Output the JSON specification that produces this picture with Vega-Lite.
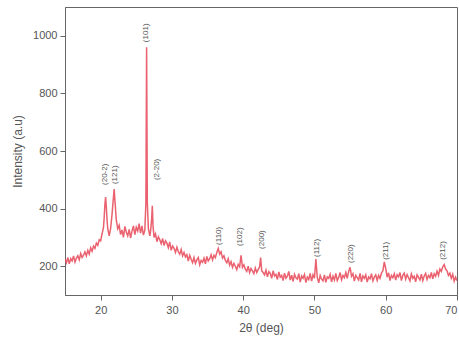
{
  "$schema": "https://vega.github.io/schema/vega-lite/v6.json",
  "width": 392,
  "height": 288,
  "autosize": {"type": "none"},
  "padding": {"left": 65, "top": 7, "right": 2, "bottom": 46},
  "background": "white",
  "config": {
    "view": {"stroke": "#666", "strokeWidth": 1},
    "font": "Liberation Sans",
    "axis": {"grid": false, "domainColor": "#666", "tickColor": "#666", "labelColor": "#555", "titleColor": "#555", "labelFontSize": 11, "titleFontSize": 12, "titleFontWeight": "normal", "tickSize": 5}
  },
  "datasets": {
    "xrd": [
      {"deg":15.0,"cnt":225},{"deg":15.2,"cnt":212},{"deg":15.4,"cnt":230},{"deg":15.6,"cnt":208},{"deg":15.8,"cnt":226},
      {"deg":16.0,"cnt":218},{"deg":16.2,"cnt":236},{"deg":16.4,"cnt":214},{"deg":16.6,"cnt":228},{"deg":16.8,"cnt":236},
      {"deg":17.0,"cnt":222},{"deg":17.2,"cnt":244},{"deg":17.4,"cnt":230},{"deg":17.6,"cnt":238},{"deg":17.8,"cnt":250},
      {"deg":18.0,"cnt":236},{"deg":18.2,"cnt":255},{"deg":18.4,"cnt":242},{"deg":18.6,"cnt":264},{"deg":18.8,"cnt":252},
      {"deg":19.0,"cnt":270},{"deg":19.2,"cnt":262},{"deg":19.4,"cnt":280},{"deg":19.6,"cnt":272},{"deg":19.8,"cnt":292},
      {"deg":20.0,"cnt":288},{"deg":20.2,"cnt":312},{"deg":20.4,"cnt":335},{"deg":20.5,"cnt":370},{"deg":20.6,"cnt":415},
      {"deg":20.7,"cnt":440},{"deg":20.8,"cnt":405},{"deg":20.9,"cnt":360},{"deg":21.0,"cnt":330},{"deg":21.2,"cnt":305},
      {"deg":21.4,"cnt":330},{"deg":21.6,"cnt":380},{"deg":21.8,"cnt":440},{"deg":21.9,"cnt":468},{"deg":22.0,"cnt":430},
      {"deg":22.2,"cnt":360},{"deg":22.4,"cnt":330},{"deg":22.6,"cnt":342},{"deg":22.8,"cnt":310},{"deg":23.0,"cnt":326},
      {"deg":23.2,"cnt":300},{"deg":23.4,"cnt":338},{"deg":23.6,"cnt":318},{"deg":23.8,"cnt":305},{"deg":24.0,"cnt":328},
      {"deg":24.2,"cnt":298},{"deg":24.4,"cnt":322},{"deg":24.6,"cnt":340},{"deg":24.8,"cnt":310},{"deg":25.0,"cnt":335},
      {"deg":25.2,"cnt":322},{"deg":25.4,"cnt":348},{"deg":25.6,"cnt":315},{"deg":25.8,"cnt":340},{"deg":26.0,"cnt":308},
      {"deg":26.2,"cnt":325},{"deg":26.35,"cnt":420},{"deg":26.45,"cnt":960},{"deg":26.55,"cnt":420},{"deg":26.7,"cnt":330},
      {"deg":26.9,"cnt":305},{"deg":27.0,"cnt":320},{"deg":27.15,"cnt":360},{"deg":27.25,"cnt":410},{"deg":27.35,"cnt":340},
      {"deg":27.5,"cnt":300},{"deg":27.7,"cnt":312},{"deg":27.9,"cnt":285},{"deg":28.1,"cnt":302},{"deg":28.3,"cnt":292},
      {"deg":28.5,"cnt":278},{"deg":28.7,"cnt":296},{"deg":28.9,"cnt":272},{"deg":29.1,"cnt":288},{"deg":29.3,"cnt":280},
      {"deg":29.5,"cnt":264},{"deg":29.7,"cnt":284},{"deg":29.9,"cnt":255},{"deg":30.1,"cnt":270},{"deg":30.3,"cnt":262},
      {"deg":30.5,"cnt":248},{"deg":30.7,"cnt":266},{"deg":30.9,"cnt":250},{"deg":31.1,"cnt":242},{"deg":31.3,"cnt":258},
      {"deg":31.5,"cnt":236},{"deg":31.7,"cnt":248},{"deg":31.9,"cnt":232},{"deg":32.1,"cnt":240},{"deg":32.3,"cnt":218},
      {"deg":32.5,"cnt":238},{"deg":32.7,"cnt":224},{"deg":32.9,"cnt":212},{"deg":33.1,"cnt":230},{"deg":33.3,"cnt":210},
      {"deg":33.5,"cnt":222},{"deg":33.7,"cnt":230},{"deg":33.9,"cnt":205},{"deg":34.1,"cnt":220},{"deg":34.3,"cnt":214},
      {"deg":34.5,"cnt":228},{"deg":34.7,"cnt":208},{"deg":34.9,"cnt":234},{"deg":35.1,"cnt":218},{"deg":35.3,"cnt":226},
      {"deg":35.5,"cnt":240},{"deg":35.7,"cnt":222},{"deg":35.9,"cnt":238},{"deg":36.1,"cnt":230},{"deg":36.3,"cnt":248},
      {"deg":36.5,"cnt":262},{"deg":36.7,"cnt":242},{"deg":36.9,"cnt":250},{"deg":37.1,"cnt":228},{"deg":37.3,"cnt":236},
      {"deg":37.5,"cnt":220},{"deg":37.7,"cnt":212},{"deg":37.9,"cnt":226},{"deg":38.1,"cnt":204},{"deg":38.3,"cnt":216},
      {"deg":38.5,"cnt":196},{"deg":38.7,"cnt":210},{"deg":38.9,"cnt":200},{"deg":39.1,"cnt":188},{"deg":39.3,"cnt":206},
      {"deg":39.5,"cnt":198},{"deg":39.7,"cnt":238},{"deg":39.9,"cnt":196},{"deg":40.1,"cnt":205},{"deg":40.3,"cnt":190},
      {"deg":40.5,"cnt":182},{"deg":40.7,"cnt":200},{"deg":40.9,"cnt":178},{"deg":41.1,"cnt":192},{"deg":41.3,"cnt":184},
      {"deg":41.5,"cnt":174},{"deg":41.7,"cnt":194},{"deg":41.9,"cnt":178},{"deg":42.1,"cnt":188},{"deg":42.3,"cnt":198},
      {"deg":42.45,"cnt":230},{"deg":42.6,"cnt":184},{"deg":42.8,"cnt":178},{"deg":43.0,"cnt":170},{"deg":43.2,"cnt":186},
      {"deg":43.4,"cnt":163},{"deg":43.6,"cnt":181},{"deg":43.8,"cnt":175},{"deg":44.0,"cnt":158},{"deg":44.2,"cnt":184},
      {"deg":44.4,"cnt":166},{"deg":44.6,"cnt":171},{"deg":44.8,"cnt":154},{"deg":45.0,"cnt":180},{"deg":45.2,"cnt":162},
      {"deg":45.4,"cnt":168},{"deg":45.6,"cnt":150},{"deg":45.8,"cnt":176},{"deg":46.0,"cnt":158},{"deg":46.2,"cnt":165},
      {"deg":46.4,"cnt":182},{"deg":46.6,"cnt":152},{"deg":46.8,"cnt":169},{"deg":47.0,"cnt":147},{"deg":47.2,"cnt":172},
      {"deg":47.4,"cnt":160},{"deg":47.6,"cnt":155},{"deg":47.8,"cnt":174},{"deg":48.0,"cnt":145},{"deg":48.2,"cnt":166},
      {"deg":48.4,"cnt":158},{"deg":48.6,"cnt":171},{"deg":48.8,"cnt":143},{"deg":49.0,"cnt":162},{"deg":49.2,"cnt":154},
      {"deg":49.4,"cnt":175},{"deg":49.6,"cnt":148},{"deg":49.8,"cnt":170},{"deg":50.0,"cnt":158},{"deg":50.2,"cnt":225},
      {"deg":50.4,"cnt":160},{"deg":50.6,"cnt":142},{"deg":50.8,"cnt":168},{"deg":51.0,"cnt":155},{"deg":51.2,"cnt":149},
      {"deg":51.4,"cnt":170},{"deg":51.6,"cnt":144},{"deg":51.8,"cnt":163},{"deg":52.0,"cnt":158},{"deg":52.2,"cnt":172},
      {"deg":52.4,"cnt":146},{"deg":52.6,"cnt":165},{"deg":52.8,"cnt":152},{"deg":53.0,"cnt":175},{"deg":53.2,"cnt":150},
      {"deg":53.4,"cnt":161},{"deg":53.6,"cnt":178},{"deg":53.8,"cnt":153},{"deg":54.0,"cnt":168},{"deg":54.2,"cnt":160},
      {"deg":54.4,"cnt":178},{"deg":54.6,"cnt":158},{"deg":54.8,"cnt":182},{"deg":55.0,"cnt":196},{"deg":55.2,"cnt":165},
      {"deg":55.4,"cnt":174},{"deg":55.6,"cnt":148},{"deg":55.8,"cnt":168},{"deg":56.0,"cnt":160},{"deg":56.2,"cnt":152},
      {"deg":56.4,"cnt":175},{"deg":56.6,"cnt":146},{"deg":56.8,"cnt":166},{"deg":57.0,"cnt":158},{"deg":57.2,"cnt":170},
      {"deg":57.4,"cnt":145},{"deg":57.6,"cnt":163},{"deg":57.8,"cnt":156},{"deg":58.0,"cnt":174},{"deg":58.2,"cnt":149},
      {"deg":58.4,"cnt":162},{"deg":58.6,"cnt":170},{"deg":58.8,"cnt":151},{"deg":59.0,"cnt":168},{"deg":59.2,"cnt":158},
      {"deg":59.4,"cnt":176},{"deg":59.6,"cnt":184},{"deg":59.8,"cnt":215},{"deg":60.0,"cnt":192},{"deg":60.2,"cnt":162},
      {"deg":60.4,"cnt":177},{"deg":60.6,"cnt":150},{"deg":60.8,"cnt":168},{"deg":61.0,"cnt":160},{"deg":61.2,"cnt":174},
      {"deg":61.4,"cnt":152},{"deg":61.6,"cnt":170},{"deg":61.8,"cnt":163},{"deg":62.0,"cnt":178},{"deg":62.2,"cnt":150},
      {"deg":62.4,"cnt":168},{"deg":62.6,"cnt":176},{"deg":62.8,"cnt":155},{"deg":63.0,"cnt":171},{"deg":63.2,"cnt":160},
      {"deg":63.4,"cnt":149},{"deg":63.6,"cnt":173},{"deg":63.8,"cnt":158},{"deg":64.0,"cnt":165},{"deg":64.2,"cnt":146},
      {"deg":64.4,"cnt":170},{"deg":64.6,"cnt":161},{"deg":64.8,"cnt":152},{"deg":65.0,"cnt":172},{"deg":65.2,"cnt":150},
      {"deg":65.4,"cnt":166},{"deg":65.6,"cnt":175},{"deg":65.8,"cnt":154},{"deg":66.0,"cnt":168},{"deg":66.2,"cnt":160},
      {"deg":66.4,"cnt":178},{"deg":66.6,"cnt":156},{"deg":66.8,"cnt":174},{"deg":67.0,"cnt":165},{"deg":67.2,"cnt":183},
      {"deg":67.4,"cnt":168},{"deg":67.6,"cnt":190},{"deg":67.8,"cnt":182},{"deg":68.0,"cnt":198},{"deg":68.2,"cnt":206},
      {"deg":68.4,"cnt":190},{"deg":68.6,"cnt":184},{"deg":68.8,"cnt":168},{"deg":69.0,"cnt":176},{"deg":69.2,"cnt":158},
      {"deg":69.4,"cnt":172},{"deg":69.6,"cnt":148},{"deg":69.8,"cnt":162},{"deg":70.0,"cnt":150}
    ],
    "peaks": [
      {"deg":20.6,"cnt":482,"hkl":"(20-2)"},
      {"deg":22.0,"cnt":485,"hkl":"(121)"},
      {"deg":26.3,"cnt":978,"hkl":"(101)"},
      {"deg":27.9,"cnt":499,"hkl":"(2-20)"},
      {"deg":36.6,"cnt":274,"hkl":"(110)"},
      {"deg":39.5,"cnt":270,"hkl":"(102)"},
      {"deg":42.6,"cnt":260,"hkl":"(200)"},
      {"deg":50.3,"cnt":232,"hkl":"(112)"},
      {"deg":55.1,"cnt":211,"hkl":"(220)"},
      {"deg":60.0,"cnt":222,"hkl":"(211)"},
      {"deg":68.0,"cnt":222,"hkl":"(212)"}
    ]
  },
  "layer": [
    {
      "data": {"name": "xrd"},
      "mark": {"type": "line", "color": "#e8505f", "strokeWidth": 1.5, "opacity": 0.9, "clip": true},
      "encoding": {
        "x": {"field": "deg", "type": "quantitative", "scale": {"domain": [15, 70], "nice": false, "zero": false},
              "axis": {"title": "2θ (deg)", "values": [20, 30, 40, 50, 60, 70], "labelPadding": 4, "titlePadding": 7}},
        "y": {"field": "cnt", "type": "quantitative", "scale": {"domain": [100, 1100], "nice": false, "zero": false},
              "axis": {"title": "Intensity (a.u)", "values": [200, 400, 600, 800, 1000], "format": "d", "labelPadding": 3, "titlePadding": 8}}
      }
    },
    {
      "data": {"name": "peaks"},
      "mark": {"type": "text", "angle": 270, "align": "left", "baseline": "middle", "fontSize": 8, "color": "#555"},
      "encoding": {
        "x": {"field": "deg", "type": "quantitative"},
        "y": {"field": "cnt", "type": "quantitative"},
        "text": {"field": "hkl"}
      }
    }
  ]
}
